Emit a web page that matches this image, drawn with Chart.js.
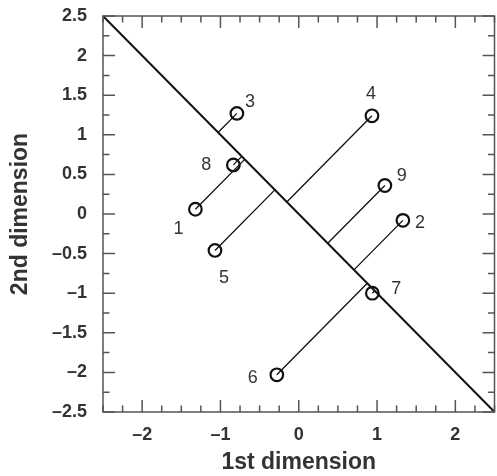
<!DOCTYPE html>
<html>
<head>
<meta charset="utf-8">
<script src="https://cdn.jsdelivr.net/npm/chart.js@4"></script>
<style>
html,body{margin:0;padding:0;overflow:hidden;background:#fff;width:497px;height:476px;}
#wrap{width:503px;height:476px;}
</style>
</head>
<body>
<div id="wrap"><canvas id="c" width="503" height="476" style="width:503px;height:476px"></canvas></div>
<script>
const pointLabels = ['1','2','3','4','5','6','7','8','9'];
const xValues = [-1.32, 1.33, -0.79, 0.935, -1.07, -0.28, 0.94, -0.835, 1.10];
const yValues = [0.06, -0.08, 1.27, 1.24, -0.46, -2.03, -1.00, 0.62, 0.36];
const xTickValues = [-2, -1, 0, 1, 2];
const yTickValues = [-2.5, -2, -1.5, -1, -0.5, 0, 0.5, 1, 1.5, 2, 2.5];
const axisMin = -2.5, axisMax = 2.5;

// label placement (pixels) relative to each point
const labelOffsets = [[-17,20],[17,3],[13,-11],[-1,-22],[9,28],[-24,3],[24,-4],[-27,0],[17,-9]];

const FONT = '"Liberation Sans", Arial, Helvetica, sans-serif';
const points = xValues.map((x,i)=>({x:x, y:yValues[i]}));
// perpendicular projection onto the line y = -x
const projSegments = [];
points.forEach(p=>{
  projSegments.push({x:p.x, y:p.y});
  projSegments.push({x:(p.x-p.y)/2, y:(p.y-p.x)/2});
  projSegments.push({x:null, y:null});
});
const fmt = v => String(v).replace('-', '\u2013');

const boxTicks = {
  id:'boxTicks',
  afterDraw(chart){
    const ctx = chart.ctx, a = chart.chartArea, xs = chart.scales.x, ys = chart.scales.y;
    ctx.save();
    ctx.strokeStyle = '#555'; ctx.lineWidth = 1.5;
    ctx.strokeRect(a.left, a.top, a.right-a.left, a.bottom-a.top);
    for (let k=0; k<=20; k++){
      const v = axisMin + k*0.25;
      const xl = (Math.abs(v - Math.round(v)) < 1e-9) ? 12 : 6.5;
      const px = xs.getPixelForValue(v);
      ctx.beginPath();
      ctx.moveTo(px, a.bottom); ctx.lineTo(px, a.bottom - xl);
      ctx.moveTo(px, a.top); ctx.lineTo(px, a.top + xl);
      ctx.stroke();
      const yl = (Math.abs(v*2 - Math.round(v*2)) < 1e-9) ? 12 : 6.5;
      const py = ys.getPixelForValue(v);
      ctx.beginPath();
      ctx.moveTo(a.left, py); ctx.lineTo(a.left + yl, py);
      ctx.moveTo(a.right, py); ctx.lineTo(a.right - yl, py);
      ctx.stroke();
    }
    ctx.restore();
  },
  afterDatasetsDraw(chart){
    const ctx = chart.ctx, xs = chart.scales.x, ys = chart.scales.y;
    ctx.save();
    ctx.fillStyle = '#333';
    ctx.font = '18px ' + FONT;
    ctx.textAlign = 'center';
    ctx.textBaseline = 'middle';
    points.forEach((p,i)=>{
      const px = xs.getPixelForValue(p.x), py = ys.getPixelForValue(p.y);
      ctx.fillText(pointLabels[i], px + labelOffsets[i][0], py + labelOffsets[i][1]);
    });
    ctx.restore();
  }
};

new Chart(document.getElementById('c'), {
  type: 'scatter',
  data: {
    datasets: [
      { type:'line', data:[{x:axisMin,y:axisMax},{x:axisMax,y:axisMin}], borderColor:'#111', borderWidth:2, pointRadius:0, fill:false },
      { type:'line', data:projSegments, borderColor:'#111', borderWidth:1.3, pointRadius:0, spanGaps:false, fill:false },
      { type:'scatter', data:points, pointRadius:6.3, pointBorderWidth:2.2, borderColor:'#111', backgroundColor:'rgba(0,0,0,0)', pointBackgroundColor:'rgba(0,0,0,0)', pointBorderColor:'#111' }
    ]
  },
  options: {
    responsive:false, animation:false, devicePixelRatio:1,
    layout:{ padding:{ top:16, right:3, left:0, bottom:0 } },
    plugins:{ legend:{display:false}, tooltip:{enabled:false} },
    scales:{
      x:{ type:'linear', min:axisMin, max:axisMax,
        afterBuildTicks: s => { s.ticks = xTickValues.map(v=>({value:v})); },
        afterFit: s => { s.height = 64; s.paddingLeft = 0; s.paddingRight = 0; s.paddingTop = 0; s.paddingBottom = 0; },
        grid:{ display:false, drawTicks:false },
        border:{ display:false },
        ticks:{ padding:12, color:'#333', font:{ family:FONT, size:18, weight:'bold' }, callback: v => fmt(v), maxRotation:0 },
        title:{ display:true, text:'1st dimension', color:'#333', padding:{top:0,bottom:0}, font:{ family:FONT, size:23, weight:'bold' } }
      },
      y:{ type:'linear', min:axisMin, max:axisMax,
        afterBuildTicks: s => { s.ticks = yTickValues.map(v=>({value:v})); },
        afterFit: s => { s.width = 103; s.paddingLeft = 0; s.paddingRight = 0; s.paddingTop = 0; s.paddingBottom = 0; },
        grid:{ display:false, drawTicks:false },
        border:{ display:false },
        ticks:{ padding:16, color:'#333', font:{ family:FONT, size:18, weight:'bold' }, callback: v => fmt(v) },
        title:{ display:true, text:'2nd dimension', color:'#333', padding:{top:7,bottom:0}, font:{ family:FONT, size:23, weight:'bold' } }
      }
    }
  },
  plugins:[boxTicks]
});
</script>
</body>
</html>
